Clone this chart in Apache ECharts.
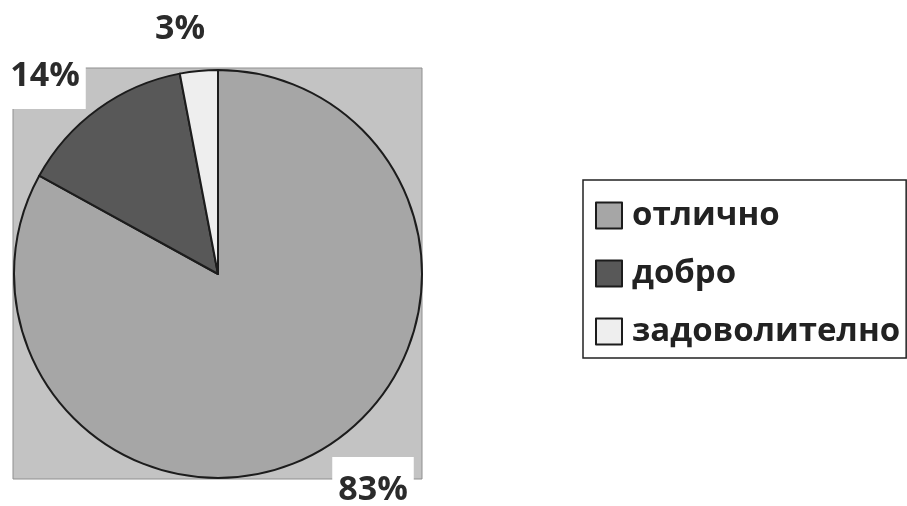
<!DOCTYPE html>
<html>
<head>
<meta charset="utf-8">
<script src="https://cdn.jsdelivr.net/npm/echarts@6/dist/echarts.min.js"></script>
<style>
html,body{margin:0;padding:0;background:#fff;}
#chart{width:907px;height:506px;}
</style>
</head>
<body>
<div id="chart"></div>
<script>
const categories = ['отлично', 'добро', 'задоволително'];
const values = [83, 14, 3];
const colors = ['#a6a6a6', '#585858', '#eeeeee'];

const labelPos = [[373, 490], [45, 76], [180, 29]];

const chart = echarts.init(document.getElementById('chart'));
chart.setOption({
  animation: false,
  backgroundColor: '#ffffff',
  graphic: [{
    type: 'rect',
    z: -10,
    shape: { x: 13, y: 68, width: 409, height: 411 },
    style: { fill: '#c3c3c3', stroke: '#8f8f8f', lineWidth: 1 }
  }],
  legend: {
    orient: 'vertical',
    left: 583,
    top: 180,
    icon: 'rect',
    itemWidth: 26,
    itemHeight: 26,
    itemGap: 25,
    padding: [19, 6, 10, 12],
    borderColor: '#222',
    borderWidth: 1.5,
    textStyle: {
      fontFamily: 'Open Sans',
      fontWeight: 'bold',
      fontSize: 33,
      color: '#222',
      padding: [0, 0, 0, 5]
    },
    data: categories
  },
  series: [{
    type: 'pie',
    center: [218, 274],
    radius: 204,
    startAngle: 90,
    clockwise: true,
    itemStyle: { borderColor: '#1c1c1c', borderWidth: 2 },
    label: {
      show: true,
      position: 'inside',
      formatter: '{d}%',
      fontFamily: 'Open Sans',
      fontWeight: 'bold',
      fontSize: 34,
      color: '#2b2b2b',
      backgroundColor: '#ffffff',
      padding: [16, 6]
    },
    labelLine: { show: false },
    labelLayout: function (params) {
      const p = labelPos[params.dataIndex];
      return { x: p[0], y: p[1], align: 'center', verticalAlign: 'middle', hideOverlap: false };
    },
    data: categories.map((c, i) => ({
      name: c,
      value: values[i],
      itemStyle: { color: colors[i] }
    }))
  }]
});
</script>
</body>
</html>
